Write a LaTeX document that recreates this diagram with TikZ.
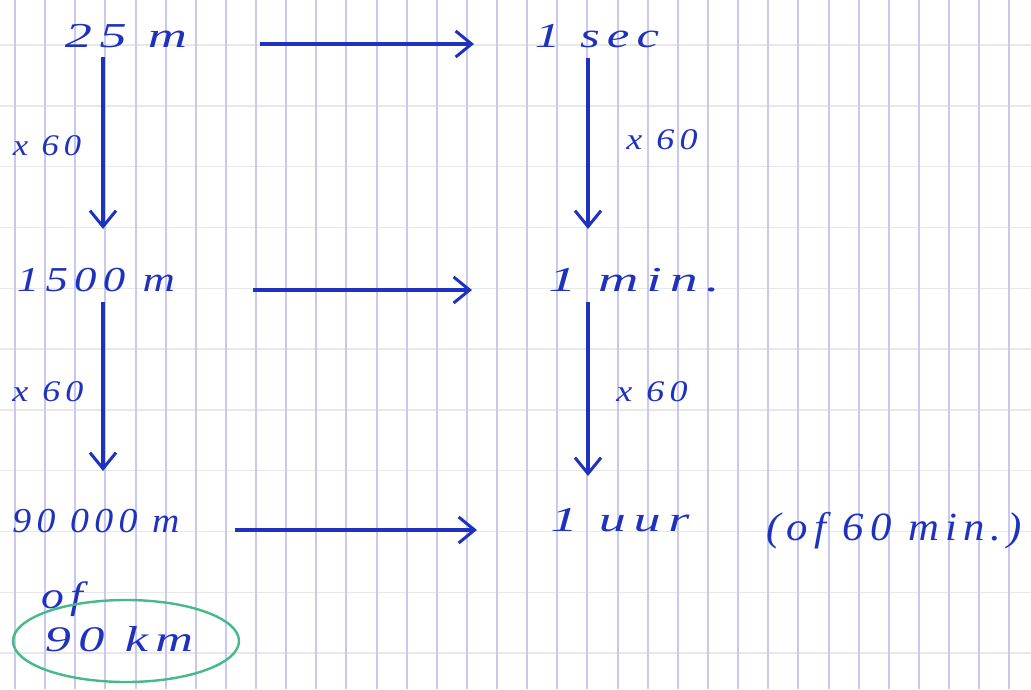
\documentclass[tikz,border=0pt]{standalone}
\usepackage{fontspec}
\setmainfont{Liberation Serif}
\newfontfamily\hand[LetterSpace=14]{Liberation Serif}
\usetikzlibrary{arrows.meta}
\definecolor{ink}{RGB}{30,50,190}
\definecolor{vgrid}{RGB}{200,200,240}
\definecolor{hgrid}{RGB}{232,232,232}
\definecolor{hl}{RGB}{70,185,135}
\tikzset{
  txt/.style={text=ink, font=\hand\itshape\fontsize{35}{37}\selectfont, inner sep=0pt, anchor=base},
  small/.style={text=ink, font=\hand\itshape\fontsize{30}{32}\selectfont, inner sep=0pt, anchor=base},
  conv/.style={draw=ink, line width=3.2pt, -{Straight Barb[length=16pt,width=26pt,line width=3pt]}},
}
\begin{document}
\begin{tikzpicture}[x=1pt,y=-1pt]
\useasboundingbox (0,0) rectangle (1031,689);
\fill[white] (0,0) rectangle (1031,689);
\foreach \k in {0,...,10} \draw[hgrid, line width=1.4pt] (0,45+60.8*\k) -- (1031,45+60.8*\k);
\foreach \k in {0,...,33} \draw[vgrid, line width=2pt] (15+30.13*\k,0) -- (15+30.13*\k,689);

\node[txt] (a1) at (126,47) {\scalebox{1.55}[1]{25 m}};
\node[txt] (b1) at (597,47) {\scalebox{1.45}[1]{1 sec}};
\node[txt] (a2) at (96,291) {\scalebox{1.28}[1]{1500 m}};
\node[txt] (b2) at (634,291) {\scalebox{1.6}[1]{1 min.}};
\node[txt] (a3) at (96,532) {\scalebox{1.08}[1]{90 000 m}};
\node[txt] (b3) at (620,531) {\scalebox{1.55}[1]{1 uur}};
\node[txt, font=\hand\itshape\fontsize{40}{42}\selectfont] (b3n) at (894,540) {\scalebox{1.07}[1]{(of 60 min.)}};
\node[txt, font=\hand\itshape\fontsize{38}{40}\selectfont] (of) at (62,608) {\scalebox{1.2}[1]{of}};
\node[txt, font=\hand\itshape\fontsize{36}{38}\selectfont] (km) at (119,651) {\scalebox{1.45}[1]{90 km}};
\draw[hl, line width=2.4pt] (126,641) ellipse [x radius=113, y radius=41];

\coordinate (h1s) at (260,44); \coordinate (h1e) at (474,44);
\coordinate (h2s) at (253,290); \coordinate (h2e) at (472,290);
\coordinate (h3s) at (235,530); \coordinate (h3e) at (477,530);
\coordinate (v1s) at (103,57);  \coordinate (v1e) at (103,229);
\coordinate (v2s) at (103,302); \coordinate (v2e) at (103,471);
\coordinate (v3s) at (588,58);  \coordinate (v3e) at (588,229);
\coordinate (v4s) at (588,302); \coordinate (v4e) at (588,476);
\draw[conv] (h1s) -- (h1e);
\draw[conv] (h2s) -- (h2e);
\draw[conv] (h3s) -- (h3e);
\draw[conv] (v1s) -- (v1e);
\draw[conv] (v2s) -- (v2e);
\draw[conv] (v3s) -- (v3e);
\draw[conv] (v4s) -- (v4e);

\node[small] (m1) at (47,155) {\scalebox{1.15}[1]{x 60}};
\node[small] (m2) at (662,149) {\scalebox{1.2}[1]{x 60}};
\node[small] (m3) at (48,401) {\scalebox{1.2}[1]{x 60}};
\node[small] (m4) at (652,401) {\scalebox{1.2}[1]{x 60}};
\end{tikzpicture}
\end{document}
